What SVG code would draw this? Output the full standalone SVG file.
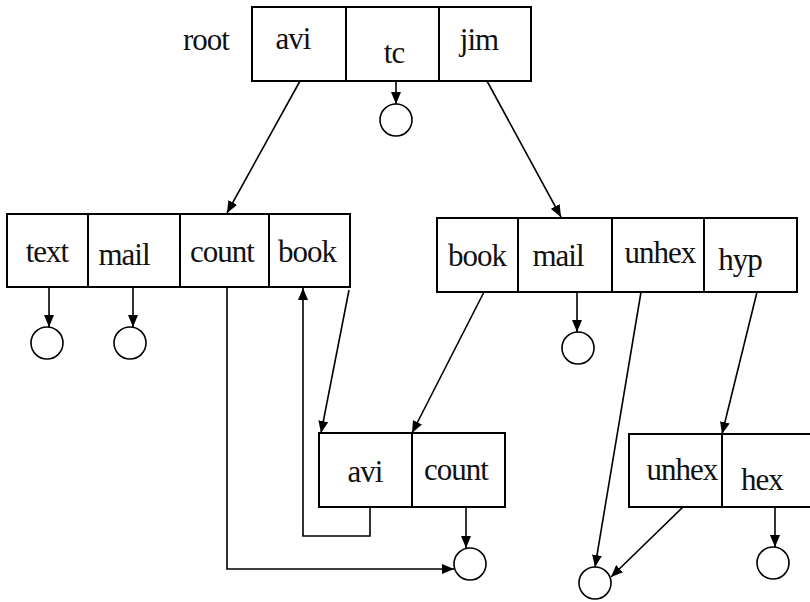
<svg xmlns="http://www.w3.org/2000/svg" width="810" height="602" viewBox="0 0 810 602">
<defs>
<style>
.box{fill:#fff;stroke:#000;stroke-width:2}
.div{stroke:#000;stroke-width:2}
.c{fill:#fff;stroke:#000;stroke-width:1.6}
.e{fill:none;stroke:#000;stroke-width:1.6;marker-end:url(#ah)}
.t{font-family:'Liberation Serif','Times New Roman','DejaVu Serif',serif;font-size:31px;fill:#111;text-anchor:middle;letter-spacing:-1px}
</style>
<marker id="ah" viewBox="0 0 12 10" refX="12" refY="5" markerWidth="12" markerHeight="10" markerUnits="userSpaceOnUse" orient="auto">
<path d="M0,0 L12,5 L0,10 z" fill="#000"/>
</marker>
</defs>
<rect width="810" height="602" fill="#fff"/>
<g id="root">
<text class="t" x="206" y="50">root</text>
<rect class="box" x="252" y="7" width="279" height="74"/>
<line class="div" x1="346" y1="7" x2="346" y2="81"/>
<line class="div" x1="439" y1="7" x2="439" y2="81"/>
<text class="t" x="293" y="49">avi</text>
<text class="t" x="394" y="63">tc</text>
<text class="t" x="479" y="50">jim</text>
</g>
<g id="nodeL">
<rect class="box" x="7" y="214" width="343" height="73"/>
<line class="div" x1="88" y1="214" x2="88" y2="287"/>
<line class="div" x1="180" y1="214" x2="180" y2="287"/>
<line class="div" x1="269" y1="214" x2="269" y2="287"/>
<text class="t" x="47" y="262">text</text>
<text class="t" x="124" y="265">mail</text>
<text class="t" x="222" y="262">count</text>
<text class="t" x="307" y="262">book</text>
</g>
<g id="nodeR">
<rect class="box" x="437" y="218" width="360" height="74"/>
<line class="div" x1="518" y1="218" x2="518" y2="292"/>
<line class="div" x1="612" y1="218" x2="612" y2="292"/>
<line class="div" x1="704" y1="218" x2="704" y2="292"/>
<text class="t" x="477" y="266">book</text>
<text class="t" x="558" y="266">mail</text>
<text class="t" x="660" y="263">unhex</text>
<text class="t" x="740" y="270">hyp</text>
</g>
<g id="nodeAC">
<rect class="box" x="319" y="433" width="186" height="74"/>
<line class="div" x1="412" y1="433" x2="412" y2="507"/>
<text class="t" x="365" y="482">avi</text>
<text class="t" x="456" y="480">count</text>
</g>
<g id="nodeUH">
<rect class="box" x="629" y="434" width="190" height="73"/>
<line class="div" x1="722" y1="434" x2="722" y2="507"/>
<text class="t" x="682" y="480">unhex</text>
<text class="t" x="762" y="490">hex</text>
</g>
<g id="leaves">
<circle class="c" cx="396" cy="120" r="16"/>
<circle class="c" cx="47" cy="343" r="16"/>
<circle class="c" cx="130" cy="343" r="16"/>
<circle class="c" cx="578" cy="348" r="16"/>
<circle class="c" cx="470" cy="564" r="16"/>
<circle class="c" cx="595" cy="583" r="16"/>
<circle class="c" cx="773" cy="563" r="16"/>
</g>
<g id="connectors">
<line class="e" x1="396" y1="81" x2="396" y2="104"/>
<line class="e" x1="300" y1="81" x2="227" y2="213"/>
<line class="e" x1="487" y1="81" x2="561" y2="217"/>
<line class="e" x1="49" y1="287" x2="49" y2="327"/>
<line class="e" x1="133" y1="287" x2="133" y2="327"/>
<path class="e" d="M227,287 V569 H454"/>
<path class="e" d="M370,507 V536 H303 V288"/>
<line class="e" x1="349" y1="290" x2="321" y2="433"/>
<line class="e" x1="484" y1="292" x2="412" y2="433"/>
<line class="e" x1="577" y1="292" x2="577" y2="332"/>
<line class="e" x1="641" y1="292" x2="595" y2="567"/>
<line class="e" x1="757" y1="292" x2="722" y2="434"/>
<line class="e" x1="466" y1="507" x2="466" y2="548"/>
<line class="e" x1="683" y1="507" x2="611" y2="577"/>
<line class="e" x1="775" y1="507" x2="775" y2="547"/>
</g>
</svg>
